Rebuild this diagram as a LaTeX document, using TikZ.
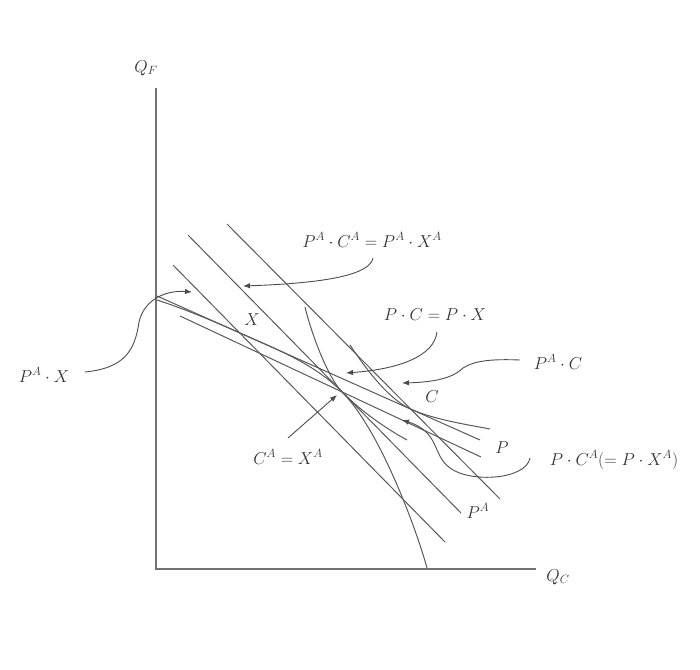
\documentclass[tikz,border=0pt]{standalone}
\usetikzlibrary{arrows.meta}
\begin{document}
\begin{tikzpicture}[x=1pt,y=-1pt,
  ln/.style={draw=black!65, line width=1pt},
  ax/.style={draw=black!55, line width=2.6pt},
  lab/.style={text=black!80, font=\fontsize{17.28}{20}\selectfont, inner sep=0pt},
  ptr/.style={draw=black!70, line width=0.9pt, -{Latex[length=7pt,width=5.5pt]}},
]
\useasboundingbox (0,0) rectangle (700,669);
% axes
\draw[ax] (156,88) -- (156,569) -- (536,569);
% price lines
\coordinate (a1) at (173,265); \coordinate (a2) at (445,542);
\coordinate (b1) at (188,235); \coordinate (b2) at (461,513);
\coordinate (c1) at (227,224); \coordinate (c2) at (500,499);
\coordinate (p1) at (157,296); \coordinate (p2) at (480,440);
\coordinate (q1) at (180,316); \coordinate (q2) at (481,457);
\draw[ln] (a1) -- (a2);
\draw[ln] (b1) -- (b2);
\draw[ln] (c1) -- (c2);
\draw[ln] (p1) -- (p2);
\draw[ln] (q1) -- (q2);
\coordinate (X) at (intersection of a1--a2 and p1--p2);
\coordinate (CA) at (intersection of b1--b2 and q1--q2);
\coordinate (C) at (intersection of c1--c2 and p1--p2);
% production possibility frontier
\draw[ln] (157,300) .. controls +(28,9) and +(-25,-11.1) .. (X)
  .. controls +(35,15.6) and +(-28,-28.5) .. (CA)
  .. controls +(38,38.7) and +(-11,-40) .. (427,568);
% indifference curves
\draw[ln] (305,307) .. controls +(6,25) and +(-15,-15.3) .. (CA)
  .. controls +(20,20.4) and +(-20,-11) .. (407,440);
\draw[ln] (350,345) .. controls +(10,15) and +(-25,-11.1) .. (C)
  .. controls +(25,11.1) and +(-20,-4) .. (490,429);
% labels
\node[lab] (l1) at (372,240) {$P^A\cdot C^A = P^A\cdot X^A$};
\node[lab] (l2) at (435,315) {$P\cdot C = P\cdot X$};
\node[lab] (l3) at (558,362) {$P^A\cdot C$};
\node[lab] (l4) at (614,460) {$P\cdot C^A(=P\cdot X^A)$};
\node[lab] (l5) at (288,457) {$C^A = X^A$};
\node[lab] (l6) at (44,375) {$P^A\cdot X$};
\node[lab] (qf) at (146,68) {$Q_F$};
\node[lab] (qc) at (558,577) {$Q_C$};
\node[lab] (lx) at (252,320) {$X$};
\node[lab] (lc) at (432,397) {$C$};
\node[lab] (lp) at (502,448) {$P$};
\node[lab] (lpa) at (478,511) {$P^A$};
% arrow ends
\coordinate (t1) at (373,258); \coordinate (h1) at (243,286);
\coordinate (t2) at (437,332); \coordinate (h2) at (346,373);
\coordinate (t3) at (520,360); \coordinate (h3) at (402,383);
\coordinate (t4) at (530,458); \coordinate (h4) at (402,420);
\coordinate (t5) at (288,438); \coordinate (h5) at (337,395);
\coordinate (t6) at (85,372);  \coordinate (h6) at (192,292);
\draw[ptr] (t1) .. controls (370,274) and (330,283) .. (h1);
\draw[ptr] (t2) .. controls (434,356) and (400,369) .. (h2);
\draw[ptr] (t3) .. controls (495,359) and (475,360) .. (463,368)
  .. controls (455,376) and (440,382) .. (h3);
\draw[ptr] (t4) .. controls (526,480) and (470,483) .. (450,468)
  .. controls (432,455) and (440,432) .. (h4);
\draw[ptr] (t5) -- (h5);
\draw[ptr] (t6) .. controls (125,368) and (135,350) .. (139,322)
  .. controls (144,300) and (165,290) .. (h6);
\end{tikzpicture}
\end{document}
